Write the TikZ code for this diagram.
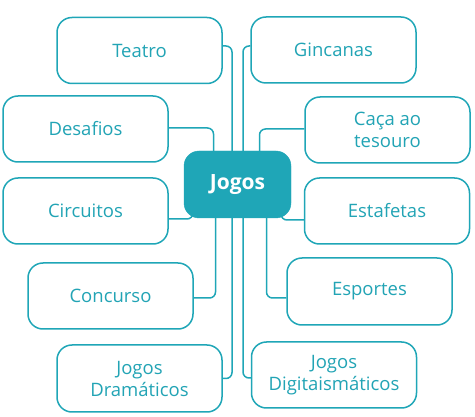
\documentclass[tikz,border=0pt]{standalone}
\usepackage{fontspec}
\setmainfont{Open Sans}
\usetikzlibrary{backgrounds}
\definecolor{teal1}{HTML}{1FA6B7}
\definecolor{tealtxt}{HTML}{22A4B5}
\tikzset{
  leaf/.style={draw=teal1, line width=1.5pt, rounded corners=15pt, fill=white,
    minimum width=165pt, minimum height=66pt, text=tealtxt, align=center,
    font=\fontsize{18.5}{22}\selectfont, inner sep=0pt},
  hub/.style={fill=teal1, draw=teal1, rounded corners=15pt, minimum width=107pt,
    minimum height=67pt, text=white, font=\fontsize{21}{24}\selectfont\bfseries, inner sep=0pt},
  conn/.style={draw=teal1, line width=1.5pt, rounded corners=6pt}
}
\begin{document}
\begin{tikzpicture}[x=1pt,y=-1pt]
\useasboundingbox (0,0) rectangle (475,417);
\node[hub] (jogos) at (237.5,184.5) {Jogos};
\node[leaf] (teatro) at (139.5,50.5) {Teatro};
\node[leaf] (gincanas) at (333.5,50) {Gincanas};
\node[leaf] (desafios) at (85.5,129) {Desafios};
\node[leaf] (caca) at (387.5,130) {Caça ao\\tesouro};
\node[leaf] (circuitos) at (85.5,211) {Circuitos};
\node[leaf] (estafetas) at (387,211) {Estafetas};
\node[leaf] (concurso) at (110.5,296) {Concurso};
\node[leaf, minimum height=67pt] (esportes) at (369.5,291.5) {Esportes};
\node[leaf, minimum height=67pt] (dramaticos) at (139.5,378.5) {Jogos\\Dramáticos};
\node[leaf] (digitais) at (334,375) {Jogos\\Digitaismáticos};
\coordinate (xa) at (232,0);
\coordinate (xb) at (243,0);
\coordinate (xc) at (213.5,0);
\coordinate (xd) at (259.5,0);
\coordinate (xe) at (193,0);
\coordinate (xf) at (281,0);
\coordinate (xg) at (215.5,0);
\coordinate (xh) at (266.5,0);
\begin{scope}[on background layer]
\draw[conn] ([yshift=4.5pt]teatro.east) -| (xa |- jogos.center) |- (dramaticos.east);
\draw[conn] ([yshift=4pt]gincanas.west) -| (xb |- jogos.center) |- ([yshift=-3pt]digitais.west);
\draw[conn] ([yshift=1pt]desafios.east) -| (xc |- jogos.center);
\draw[conn] ([yshift=1pt]caca.west) -| (xd |- jogos.center);
\draw[conn] ([yshift=-8pt]circuitos.east) -| (xe |- jogos.center);
\draw[conn] ([yshift=-9pt]estafetas.west) -| (xf |- jogos.center);
\draw[conn] ([yshift=-2pt]concurso.east) -| (xg |- jogos.center);
\draw[conn] ([yshift=-6.5pt]esportes.west) -| (xh |- jogos.center);
\end{scope}
\end{tikzpicture}
\end{document}
